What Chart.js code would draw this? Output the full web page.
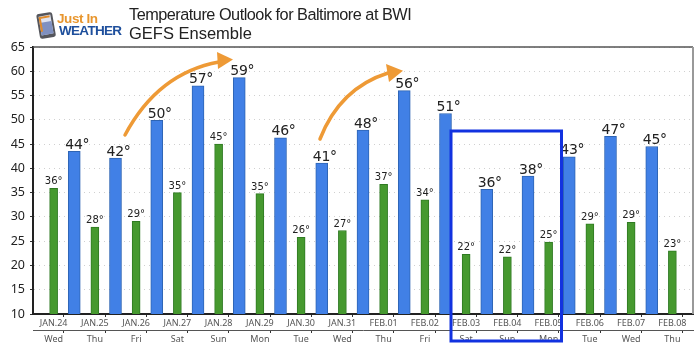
<!DOCTYPE html>
<html>
<head>
<meta charset="utf-8">
<script src="https://cdn.jsdelivr.net/npm/chart.js@4/dist/chart.umd.min.js"></script>
<style>
html,body{margin:0;padding:0;background:#fff;overflow:hidden}
#wrap{position:relative;width:700px;height:352px}
canvas{display:block}
</style>
</head>
<body>
<div id="wrap"><canvas id="c" width="700" height="352"></canvas></div>
<script>
const dates = ["JAN.24","JAN.25","JAN.26","JAN.27","JAN.28","JAN.29","JAN.30","JAN.31","FEB.01","FEB.02","FEB.03","FEB.04","FEB.05","FEB.06","FEB.07","FEB.08"];
const weekdays = ["Wed","Thu","Fri","Sat","Sun","Mon","Tue","Wed","Thu","Fri","Sat","Sun","Mon","Tue","Wed","Thu"];
const highs = [43.5,42.1,49.9,57,58.7,46.3,41.1,47.9,56,51.3,35.7,38.4,42.4,46.6,44.5];
const lows = [35.9,27.9,29.1,35,45,34.8,25.8,27.2,36.7,33.5,22.3,21.8,24.8,28.6,28.9,23];
const highLabels = [44,42,50,57,59,46,41,48,56,51,36,38,43,47,45];
const lowLabels = [36,28,29,35,45,35,26,27,37,34,22,22,25,29,29,23];
const titleLines = ["Temperature Outlook for Baltimore at BWI","GEFS Ensemble"];

const FONT = '"DejaVu Sans"';
const isWhole = v => Number.isInteger(v);

const decor = {
  id:'decor',
  afterDatasetsDraw(chart){
    const {ctx,chartArea:a,scales:{x,y}} = chart;
    ctx.save();
    // plot frame: top and right edges
    ctx.strokeStyle='#555';ctx.lineWidth=1.5;
    ctx.beginPath();ctx.moveTo(a.left,a.top);ctx.lineTo(a.right,a.top);ctx.stroke();
    ctx.strokeStyle='#999';ctx.lineWidth=2;
    ctx.beginPath();ctx.moveTo(a.right,a.top);ctx.lineTo(a.right,a.bottom);ctx.stroke();
    // value labels
    ctx.textAlign='center'; ctx.textBaseline='alphabetic';
    ctx.fillStyle='#222';
    ctx.font='14px '+FONT;
    ctx.letterSpacing='-0.3px';
    highs.forEach((v,i)=>ctx.fillText(highLabels[i]+'°',x.getPixelForValue(i+1)+3,y.getPixelForValue(v)-2.5));
    ctx.letterSpacing='0px';
    ctx.font='10px '+FONT;
    lows.forEach((v,i)=>ctx.fillText(lowLabels[i]+'°',x.getPixelForValue(i+.5),y.getPixelForValue(v)-4));
    // orange arrows
    ctx.strokeStyle='#ee9a36'; ctx.fillStyle='#ee9a36'; ctx.lineWidth=3.5; ctx.lineCap='round';
    const arrow=(c,head)=>{
      ctx.beginPath();ctx.moveTo(c[0],c[1]);ctx.quadraticCurveTo(c[2],c[3],c[4],c[5]);ctx.stroke();
      ctx.beginPath();ctx.moveTo(head[0],head[1]);ctx.lineTo(head[2],head[3]);ctx.lineTo(head[4],head[5]);ctx.closePath();ctx.fill();
    };
    arrow([125,135,158,73,219,62],[233,59.5,217,52,218,69]);
    arrow([320,139,340,88,388,73],[403,70.7,386,64,389,82]);
    // blue box
    ctx.strokeStyle='#1232e0'; ctx.lineWidth=3; ctx.lineCap='butt';
    ctx.strokeRect(451,131,110.5,210);
    // title
    ctx.fillStyle='#222'; ctx.textAlign='left'; ctx.font='16.3px "Liberation Sans"';
    ctx.letterSpacing='-0.5px';
    ctx.fillText(titleLines[0],129,20);
    ctx.letterSpacing='0px';
    ctx.font='16.5px "Liberation Sans"';
    ctx.fillText(titleLines[1],129,39);
    // logo
    ctx.save();
    ctx.translate(46,25);ctx.rotate(-0.17);
    ctx.fillStyle='#55565c';ctx.beginPath();ctx.roundRect(-8,-12,16,25,2.5);ctx.fill();
    ctx.fillStyle='#dfe3f0';ctx.fillRect(-6,-9.5,12,19);
    ctx.fillStyle='#7f90c0';ctx.fillRect(-6,-3,12,12.5);
    ctx.strokeStyle='#e08a2a';ctx.lineWidth=2;ctx.beginPath();ctx.moveTo(-5,6);ctx.lineTo(-5,-8);ctx.lineTo(5,-8);ctx.stroke();
    ctx.restore();
    ctx.textAlign='left';
    ctx.fillStyle='#e8962e';ctx.font='bold 13.5px "Liberation Sans"';
    ctx.letterSpacing='-0.4px';
    ctx.fillText('Just In',57,23);
    ctx.fillStyle='#1e4f9c';ctx.font='bold 13.5px "Liberation Sans"';
    ctx.letterSpacing='-0.7px';
    ctx.fillText('WEATHER',59,35);
    ctx.restore();
  }
};

const xCommon = {
  type:'linear', min:0, max:16, offset:false,
  grid:{drawOnChartArea:false, drawTicks:true, tickLength:3,
        tickColor:c=>(c.tick && isWhole(c.tick.value))?'#333':'rgba(0,0,0,0)', tickWidth:1},
  border:{display:true,color:'#222',width:2}
};
const xTicks = (names)=>({stepSize:.5,autoSkip:false,maxRotation:0,minRotation:0,padding:1,color:'#555',
  font:{family:'Noto Sans',size:9},
  callback:v=>isWhole(v)?'':names[Math.floor(v)]});

new Chart(document.getElementById('c'),{
  type:'bar',
  data:{datasets:[
    {label:'Low',data:lows.map((v,i)=>({x:i+.5,y:v})),backgroundColor:'#46992f',borderColor:'#2f7a22',borderWidth:{left:1,right:1,top:1,bottom:0},barThickness:8,grouped:false},
    {label:'High',data:highs.map((v,i)=>({x:i+1,y:v})),backgroundColor:'#4180e6',borderColor:'#2e64b4',borderWidth:{left:1,right:1,top:1,bottom:0},barThickness:12,grouped:false}
  ]},
  plugins:[decor],
  options:{
    responsive:false, animation:false, devicePixelRatio:1,
    layout:{padding:{left:0,right:7,top:47,bottom:0}},
    plugins:{legend:{display:false},tooltip:{enabled:false},title:{display:false}},
    scales:{
      x:{...xCommon, position:'bottom', ticks:xTicks(dates), afterFit(s){s.height=16}},
      x2:{...xCommon, position:'bottom', axis:'x', ticks:xTicks(weekdays),
        border:{display:true,color:'#555',width:1},
        afterFit(s){s.height=22}},
      y:{min:10,max:65,position:'left',
        grid:{color:'rgba(170,170,170,.55)',lineWidth:1,tickLength:3,tickColor:'#333',drawTicks:true},
        border:{display:true,color:'#222',width:2,dash:[1,4]},
        ticks:{stepSize:5,padding:5,color:'#222',font:{family:'Noto Sans',size:12.5},autoSkip:false},
        afterFit(s){s.width=33}}
    }
  }
});
</script>
</body>
</html>
